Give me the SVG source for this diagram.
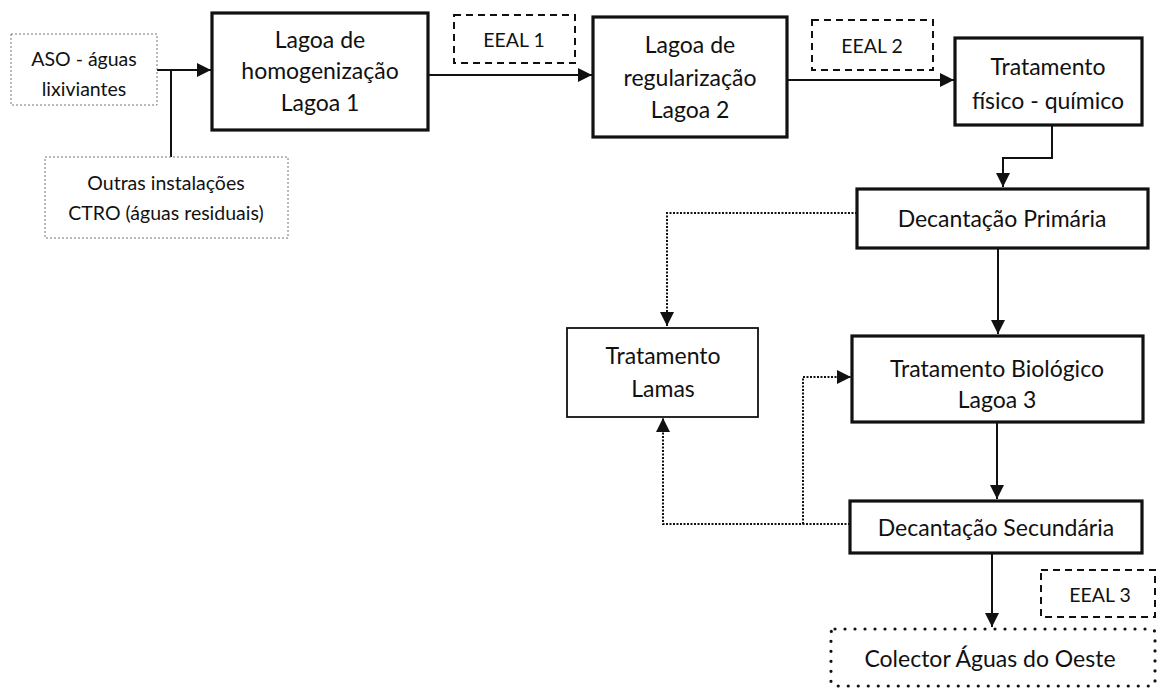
<svg xmlns="http://www.w3.org/2000/svg" width="1161" height="692" viewBox="0 0 1161 692">
<style>
text{font-family:Lato,"Open Sans","Liberation Sans",sans-serif;fill:#111;text-anchor:middle}
.t{font-size:23px}
.s{font-size:19.5px}
.thick{fill:#fff;stroke:#111;stroke-width:3.2}
.thin{fill:#fff;stroke:#111;stroke-width:1.8}
.src{fill:#fff;stroke:#777;stroke-width:1;stroke-dasharray:2 2}
.dash{fill:#fff;stroke:#111;stroke-width:2;stroke-dasharray:7 5}
.dots{fill:#fff;stroke:#111;stroke-width:3.2;stroke-linecap:round;stroke-dasharray:0 10}
.ln{fill:none;stroke:#111;stroke-width:2}
.dl{fill:none;stroke:#111;stroke-width:2;stroke-dasharray:2 1.5}
</style>
<defs>
<marker id="ahb" markerWidth="14" markerHeight="14" refX="14" refY="7" orient="auto" markerUnits="userSpaceOnUse" viewBox="0 0 14 14">
<path d="M0,0 L14,7 L0,14 Z" fill="#111"/>
</marker>
</defs>
<g id="connectors">
<path class="ln" d="M157,70 H211" marker-end="url(#ahb)"/>
<path class="ln" d="M171,70 V157"/>
<path class="ln" d="M429,75 H592" marker-end="url(#ahb)"/>
<path class="ln" d="M787,80 H954" marker-end="url(#ahb)"/>
<path class="ln" d="M1052,126 V158 H1003 V187" marker-end="url(#ahb)"/>
<path class="ln" d="M998,249 V334" marker-end="url(#ahb)"/>
<path class="ln" d="M997,423 V499" marker-end="url(#ahb)"/>
<path class="ln" d="M992,554 V627" marker-end="url(#ahb)"/>
<path class="dl" d="M857,213 H667 V326" marker-end="url(#ahb)"/>
<path class="dl" d="M850,524 H663 V418" marker-end="url(#ahb)"/>
<path class="dl" d="M803,524 V377 H851" marker-end="url(#ahb)"/>
</g>
<g id="aso">
<rect class="src" x="11" y="34" width="146" height="71"/>
<text class="s" x="84" y="66">ASO - águas</text>
<text class="s" x="84" y="96">lixiviantes</text>
</g>
<g id="outras">
<rect class="src" x="45" y="157" width="243" height="81"/>
<text class="s" x="166" y="190">Outras instalações</text>
<text class="s" x="166" y="220">CTRO (águas residuais)</text>
</g>
<g id="lagoa1">
<rect class="thick" x="212" y="13" width="216" height="117"/>
<text class="t" x="320" y="48">Lagoa de</text>
<text class="t" x="320" y="79">homogenização</text>
<text class="t" x="320" y="111">Lagoa 1</text>
</g>
<g id="eeal1">
<rect class="dash" x="454" y="15" width="121" height="48"/>
<text class="s" x="514" y="47">EEAL 1</text>
</g>
<g id="lagoa2">
<rect class="thick" x="593" y="17" width="194" height="120"/>
<text class="t" x="690" y="53">Lagoa de</text>
<text class="t" x="690" y="86">regularização</text>
<text class="t" x="690" y="118">Lagoa 2</text>
</g>
<g id="eeal2">
<rect class="dash" x="812" y="20" width="121" height="50"/>
<text class="s" x="872" y="53">EEAL 2</text>
</g>
<g id="fisqui">
<rect class="thick" x="955" y="38" width="187" height="87"/>
<text class="t" x="1048" y="75">Tratamento</text>
<text class="t" x="1048" y="109">físico - químico</text>
</g>
<g id="decprim">
<rect class="thick" x="857" y="189" width="291" height="59"/>
<text class="t" x="1002" y="227">Decantação Primária</text>
</g>
<g id="lamas">
<rect class="thin" x="567" y="328" width="191" height="89"/>
<text class="t" x="663" y="364">Tratamento</text>
<text class="t" x="663" y="397">Lamas</text>
</g>
<g id="biologico">
<rect class="thick" x="852" y="336" width="291" height="86"/>
<text class="t" x="997" y="377">Tratamento Biológico</text>
<text class="t" x="997" y="408">Lagoa 3</text>
</g>
<g id="decsec">
<rect class="thick" x="850" y="501" width="292" height="52"/>
<text class="t" x="996" y="536">Decantação Secundária</text>
</g>
<g id="eeal3">
<rect class="dash" x="1041" y="570" width="114" height="47"/>
<text class="s" x="1100" y="602">EEAL 3</text>
</g>
<g id="colector">
<rect class="dots" x="831" y="629" width="324" height="57" rx="4"/>
<text class="t" x="990" y="667">Colector Águas do Oeste</text>
</g>
</svg>
